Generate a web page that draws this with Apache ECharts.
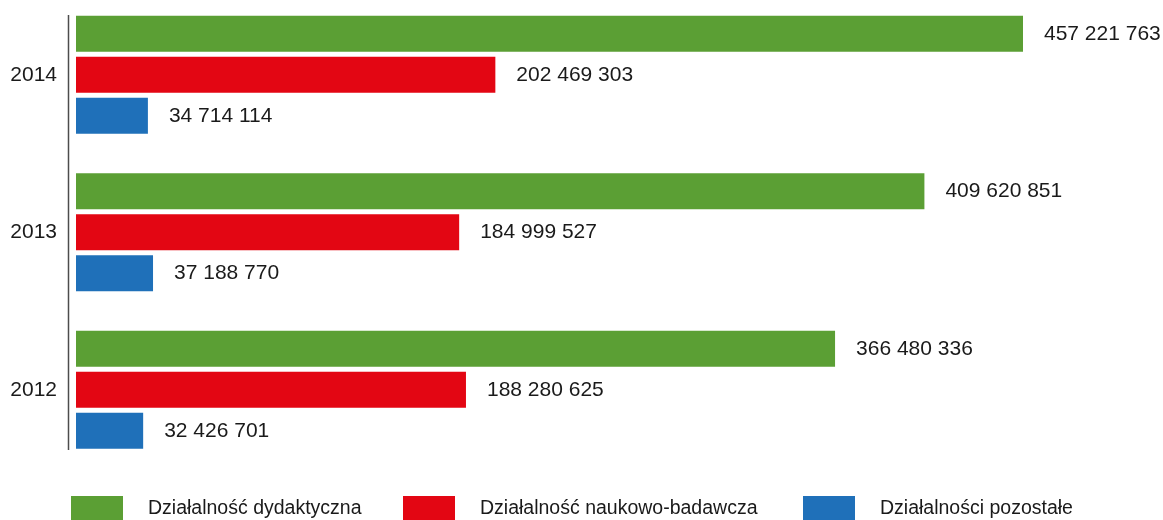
<!DOCTYPE html>
<html>
<head>
<meta charset="utf-8">
<script src="https://cdn.jsdelivr.net/npm/echarts@6/dist/echarts.min.js"></script>
<style>
  html, body { margin: 0; padding: 0; background: #ffffff; overflow: hidden; }
  #chart { width: 1163px; height: 524px; margin-top: -4px; }
</style>
</head>
<body>
<div id="chart"></div>
<script>
// Years, top to bottom
const years = ['2014', '2013', '2012'];

// Costs per activity type (PLN)
const dydaktyczna = [457221763, 409620851, 366480336];
const naukowoBadawcza = [202469303, 184999527, 188280625];
const pozostale = [34714114, 37188770, 32426701];

const seriesNames = ['Działalność dydaktyczna', 'Działalność naukowo-badawcza', 'Działalności pozostałe'];
const seriesColors = ['#5b9f34', '#e30613', '#1f70b9'];

const FONT = '"Liberation Sans", Arial, sans-serif';

// 457 221 763 style grouping
function fmt(v) {
  return String(v).replace(/\B(?=(\d{3})+(?!\d))/g, ' ');
}

const seriesData = [dydaktyczna, naukowoBadawcza, pozostale];

const chart = echarts.init(document.getElementById('chart'), null, { renderer: 'canvas' });

const legendLefts = [71, 403, 803];

chart.setOption({
  animation: false,
  backgroundColor: '#ffffff',
  grid: { left: 76, top: 0, width: 1035.6, height: 472.5, containLabel: false },
  xAxis: {
    type: 'value',
    min: 0,
    max: 500000000,
    show: false
  },
  yAxis: {
    type: 'category',
    data: years,
    inverse: true,
    offset: 8,
    axisLine: { show: false },
    axisTick: { show: false },
    axisLabel: { color: '#1a1a1a', fontSize: 21, fontFamily: FONT, margin: 11 }
  },
  graphic: [{
    type: 'line',
    shape: { x1: 68.5, y1: 19, x2: 68.5, y2: 454 },
    style: { stroke: '#4d4d4d', lineWidth: 1.5 },
    silent: true
  }],
  legend: seriesNames.map((name, i) => ({
    data: [name],
    left: legendLefts[i],
    top: 500,
    padding: 0,
    itemWidth: 52,
    itemHeight: 26,
    itemGap: 0,
    icon: 'rect',
    selectedMode: false,
    textStyle: { color: '#1a1a1a', fontSize: 19.5, fontFamily: FONT, padding: [0, 0, 0, 20] }
  })),
  series: seriesNames.map((name, i) => ({
    name: name,
    type: 'bar',
    data: seriesData[i],
    barWidth: 36,
    barGap: '14%',
    itemStyle: { color: seriesColors[i] },
    label: {
      show: true,
      position: 'right',
      distance: 21,
      color: '#1a1a1a',
      fontSize: 21,
      fontFamily: FONT,
      formatter: p => fmt(p.value)
    }
  }))
});
</script>
</body>
</html>
